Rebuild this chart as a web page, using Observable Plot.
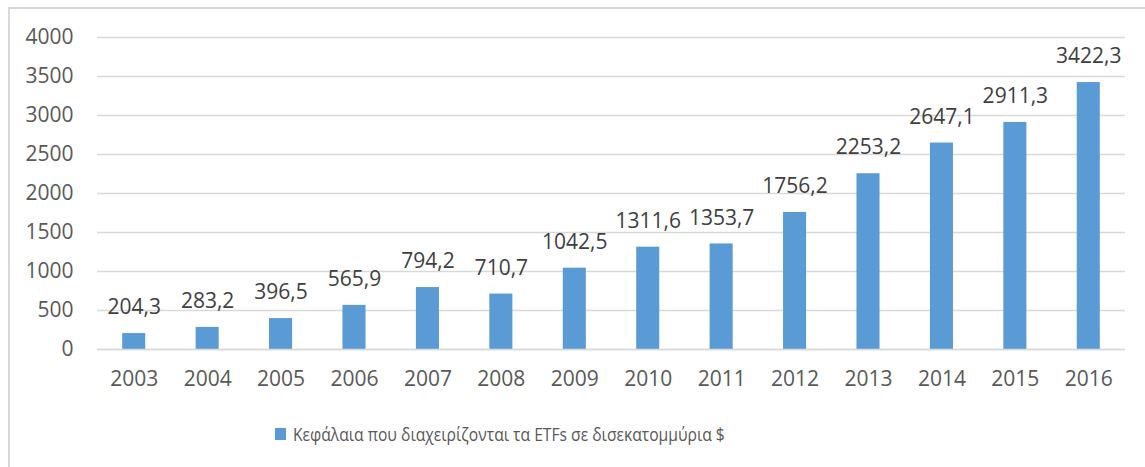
<!DOCTYPE html>
<html>
<head>
<meta charset="utf-8">
<script src="https://cdn.jsdelivr.net/npm/d3@7"></script>
<script src="https://cdn.jsdelivr.net/npm/@observablehq/plot@0.6"></script>
<style>
  html, body { margin: 0; padding: 0; background: #fff; }
  body { width: 1145px; height: 467px; position: relative; overflow: hidden; font-family: "Open Sans", sans-serif; }
  #chart { position: absolute; left: 0; top: 0; }
  .bl { position: absolute; left: 8px; top: 7px; width: 2px; height: 460px; background: #d9d9d9; }
  .bt { position: absolute; left: 8px; top: 7px; width: 1137px; height: 2px; background: #d9d9d9; }
  #legend { position: absolute; left: 0; top: 400px; width: 1145px; height: 67px; }
  #legend .sw { position: absolute; left: 275px; top: 28px; width: 11px; height: 12px; background: #5b9bd5; }
  #legend .tx { position: absolute; left: 293px; top: 21px; font-size: 18px; line-height: 26px; color: #595959; white-space: nowrap; transform: scaleX(0.87); transform-origin: 0 50%; }
</style>
</head>
<body>
<div class="bl"></div>
<div class="bt"></div>
<div id="chart"></div>
<div id="legend"><div class="sw"></div><div class="tx" id="legtext"></div></div>
<script>
const years = ["2003","2004","2005","2006","2007","2008","2009","2010","2011","2012","2013","2014","2015","2016"];
const values = [204.3, 283.2, 396.5, 565.9, 794.2, 710.7, 1042.5, 1311.6, 1353.7, 1756.2, 2253.2, 2647.1, 2911.3, 3422.3];
const yTicks = [0, 500, 1000, 1500, 2000, 2500, 3000, 3500, 4000];
const seriesName = "Κεφάλαια που διαχειρίζονται τα ETFs σε δισεκατομμύρια $";

const data = years.map((y, i) => ({year: y, value: values[i]}));
const fmt = v => v.toFixed(1).replace(".", ",");

const chart = Plot.plot({
  width: 1145,
  height: 400,
  marginTop: 37,
  marginBottom: 51,
  marginLeft: 97,
  marginRight: 20,
  style: {fontFamily: "Open Sans", fontSize: "21px", color: "#595959", background: "transparent"},
  x: {domain: years, paddingInner: 0.686, paddingOuter: 0.343, round: false, label: null},
  y: {domain: [0, 4000], label: null},
  marks: [
    Plot.gridY(yTicks, {stroke: "#d9d9d9", strokeOpacity: 1, strokeWidth: 1.5}),
    Plot.axisY(yTicks, {tickSize: 0, tickPadding: 24, label: null, tickFormat: d => String(d), fill: "#595959", fontSize: 21}),
    Plot.axisX({tickSize: 0, tickPadding: 22, label: null, fill: "#595959", fontSize: 21}),
    Plot.barY(data, {x: "year", y: "value", fill: "#5b9bd5"}),
    Plot.ruleY([0], {stroke: "#d9d9d9", strokeWidth: 1.5}),
    Plot.text(data, {x: "year", y: "value", text: d => fmt(d.value), dy: -26, lineAnchor: "middle", fill: "#404040", fontSize: 21})
  ]
});
document.getElementById("chart").appendChild(chart);
document.getElementById("legtext").textContent = seriesName;
</script>
</body>
</html>
